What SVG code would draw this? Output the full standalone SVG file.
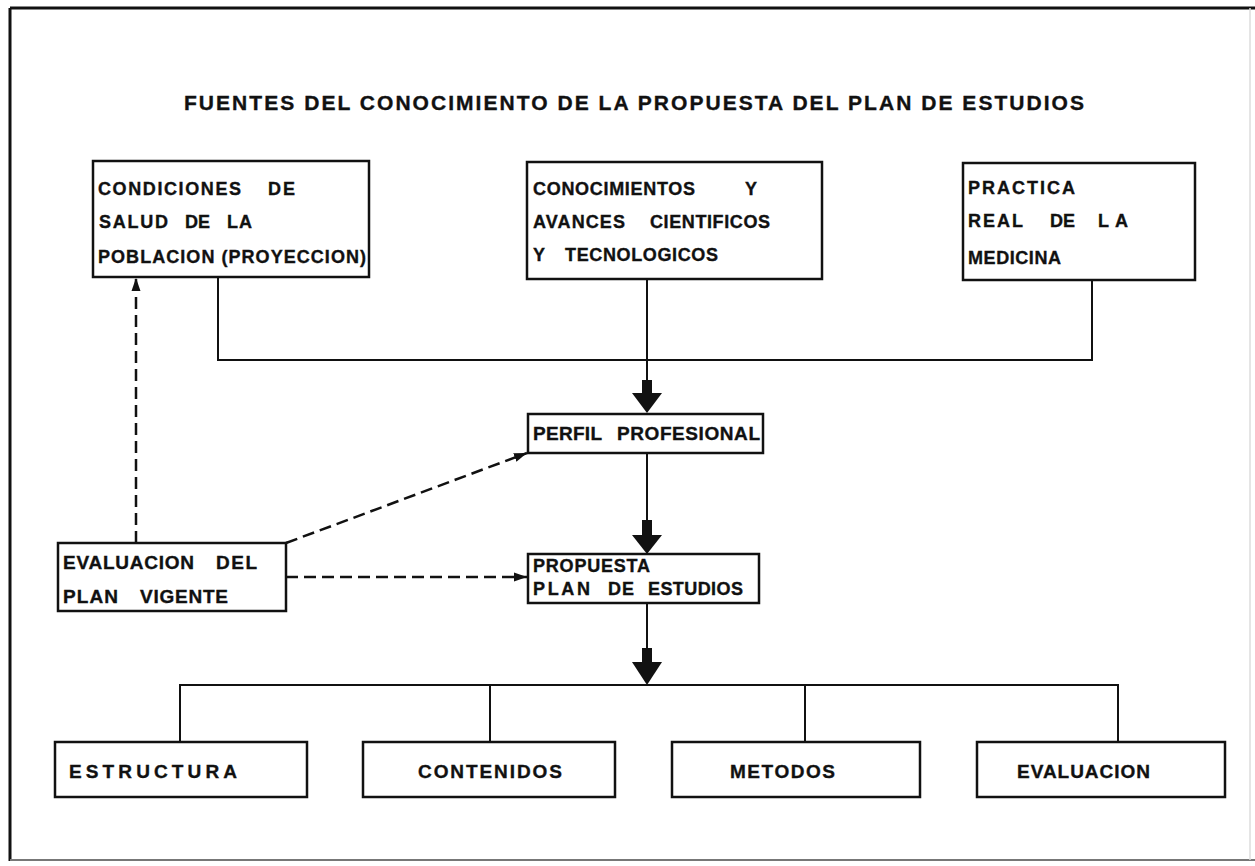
<svg xmlns="http://www.w3.org/2000/svg" width="1255" height="866" viewBox="0 0 1255 866">
<defs>
<style>
text{font-family:"Liberation Sans",Arial,sans-serif;font-weight:bold;fill:#111;stroke:#111;stroke-width:0.35;font-size:18px}
.t{font-size:21px}
.b{font-size:19px}
.p{font-size:18px}
.box{fill:#fff;stroke:#111;stroke-width:2.5}
.ln{fill:none;stroke:#111;stroke-width:2}
.dash{fill:none;stroke:#111;stroke-width:2.5;stroke-dasharray:12 6}
.ah{fill:#111;stroke:none}
</style>
<marker id="arr" markerUnits="userSpaceOnUse" markerWidth="14" markerHeight="10" refX="13" refY="5" orient="auto">
<path d="M0,0.5 L13,5 L0,9.5 z" fill="#111"/>
</marker>
</defs>
<rect width="1255" height="866" fill="#fff"/>
<g id="frame">
<line x1="10" y1="8" x2="1255" y2="8" stroke="#111" stroke-width="3"/>
<line x1="10" y1="8" x2="10" y2="861" stroke="#111" stroke-width="3"/>
<line x1="10" y1="860" x2="1255" y2="860" stroke="#777" stroke-width="2"/>
<line x1="1250" y1="8" x2="1250" y2="860" stroke="#ddd" stroke-width="1.5"/>
</g>
<g id="title">
<text class="t" x="184" y="110" textLength="900" lengthAdjust="spacing">FUENTES DEL CONOCIMIENTO DE LA PROPUESTA DEL PLAN DE ESTUDIOS</text>
</g>
<g id="connectors">
<polyline class="ln" points="218,277 218,360 1092,360 1092,280"/>
<line class="ln" x1="647" y1="279" x2="647" y2="382"/>
<rect class="ah" x="642" y="380" width="10" height="14"/>
<polygon class="ah" points="632,393 662,393 647,413"/>
<line class="ln" x1="647" y1="453" x2="647" y2="522"/>
<rect class="ah" x="642" y="520" width="10" height="16"/>
<polygon class="ah" points="632,535 662,535 647,554"/>
<line class="ln" x1="647" y1="603" x2="647" y2="650"/>
<rect class="ah" x="642" y="648" width="10" height="15"/>
<polygon class="ah" points="632,662 662,662 647,685"/>
<polyline class="ln" points="180,742 180,685 1118,685 1118,742"/>
<line class="ln" x1="490" y1="685" x2="490" y2="742"/>
<line class="ln" x1="805" y1="685" x2="805" y2="742"/>
<line class="dash" x1="136" y1="543" x2="136" y2="278" marker-end="url(#arr)"/>
<line class="dash" x1="286" y1="543" x2="527" y2="453" marker-end="url(#arr)"/>
<line class="dash" x1="286" y1="577" x2="527" y2="577" marker-end="url(#arr)"/>
</g>
<g id="condiciones">
<rect class="box" x="93" y="161" width="276" height="116"/>
<text x="98" y="195" textLength="143" lengthAdjust="spacing">CONDICIONES</text>
<text x="268" y="195" textLength="27" lengthAdjust="spacing">DE</text>
<text x="99" y="228" textLength="69" lengthAdjust="spacing">SALUD</text>
<text x="185" y="228" textLength="25" lengthAdjust="spacing">DE</text>
<text x="227" y="228" textLength="25" lengthAdjust="spacing">LA</text>
<text x="98" y="263" textLength="268" lengthAdjust="spacing">POBLACION (PROYECCION)</text>
</g>
<g id="conocimientos">
<rect class="box" x="527" y="162" width="295" height="117"/>
<text x="533" y="195" textLength="162" lengthAdjust="spacing">CONOCIMIENTOS</text>
<text x="745" y="195">Y</text>
<text x="533" y="228" textLength="92" lengthAdjust="spacing">AVANCES</text>
<text x="650" y="228" textLength="120" lengthAdjust="spacing">CIENTIFICOS</text>
<text x="533" y="261">Y</text>
<text x="565" y="261" textLength="153" lengthAdjust="spacing">TECNOLOGICOS</text>
</g>
<g id="practica">
<rect class="box" x="963" y="163" width="232" height="117"/>
<text x="968" y="194" textLength="107" lengthAdjust="spacing">PRACTICA</text>
<text x="968" y="227" textLength="55" lengthAdjust="spacing">REAL</text>
<text x="1050" y="227" textLength="25" lengthAdjust="spacing">DE</text>
<text x="1098" y="227" textLength="30" lengthAdjust="spacing">LA</text>
<text x="968" y="264" textLength="93" lengthAdjust="spacing">MEDICINA</text>
</g>
<g id="perfil">
<rect class="box" x="528" y="414" width="235" height="39"/>
<text class="b" x="533" y="440" textLength="69" lengthAdjust="spacing">PERFIL</text>
<text class="b" x="617" y="440" textLength="143" lengthAdjust="spacing">PROFESIONAL</text>
</g>
<g id="evaluacion-plan">
<rect class="box" x="58" y="543" width="228" height="68"/>
<text class="b" x="63" y="569" textLength="131" lengthAdjust="spacing">EVALUACION</text>
<text class="b" x="216" y="569" textLength="41" lengthAdjust="spacing">DEL</text>
<text class="b" x="63" y="603" textLength="55" lengthAdjust="spacing">PLAN</text>
<text class="b" x="140" y="603" textLength="88" lengthAdjust="spacing">VIGENTE</text>
</g>
<g id="propuesta">
<rect class="box" x="528" y="554" width="231" height="49"/>
<text class="p" x="533" y="572" textLength="117" lengthAdjust="spacing">PROPUESTA</text>
<text class="p" x="533" y="595" textLength="57" lengthAdjust="spacing">PLAN</text>
<text class="p" x="608" y="595" textLength="26" lengthAdjust="spacing">DE</text>
<text class="p" x="648" y="595" textLength="95" lengthAdjust="spacing">ESTUDIOS</text>
</g>
<g id="estructura">
<rect class="box" x="55" y="742" width="252" height="55"/>
<text class="b" x="69" y="778" textLength="168" lengthAdjust="spacing">ESTRUCTURA</text>
</g>
<g id="contenidos">
<rect class="box" x="363" y="742" width="252" height="55"/>
<text class="b" x="418" y="778" textLength="144" lengthAdjust="spacing">CONTENIDOS</text>
</g>
<g id="metodos">
<rect class="box" x="672" y="742" width="248" height="55"/>
<text class="b" x="730" y="778" textLength="105" lengthAdjust="spacing">METODOS</text>
</g>
<g id="evaluacion">
<rect class="box" x="977" y="742" width="248" height="55"/>
<text class="b" x="1017" y="778" textLength="133" lengthAdjust="spacing">EVALUACION</text>
</g>
</svg>
